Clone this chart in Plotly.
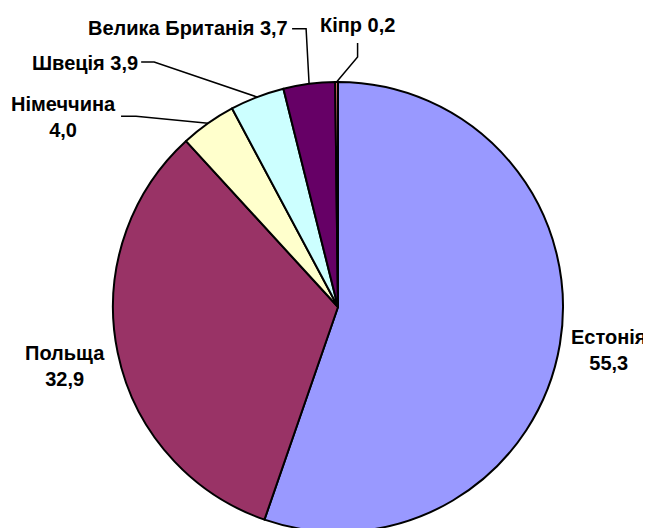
import math
import plotly.graph_objects as go

# ---- data ----
countries = ["Естонія", "Польща", "Німеччина", "Швеція", "Велика Британія", "Кіпр"]
shares = [55.3, 32.9, 4.0, 3.9, 3.7, 0.2]
label_texts = ["Естонія<br>55,3", "Польща<br>32,9", "Німеччина<br>4,0",
               "Швеція 3,9", "Велика Британія 3,7", "Кіпр 0,2"]

# ---- styles / layout ----
colors = ["#9999FF", "#993366", "#FFFFCC", "#CCFFFF", "#660066", "#FF8080"]
OFF = 8                      # page body margin of the browser
W, H = 651 - OFF, 528        # figure size (bottom overflow is clipped by the window)
CX, CY, R = 338 - OFF, 307 - OFF, 225

# label offsets (px) relative to the slice's outer-edge midpoint; leader path offsets
label_cfg = [
    dict(dx=89, dy=6, anchor="right", leader=None),
    dict(dx=-53, dy=13, anchor="center", leader=None),
    dict(dx=-145, dy=-6, anchor="center", leader=[(-72, -7), (-87, -7)]),
    dict(dx=-117, dy=-34, anchor="right", leader=[(-103, -35), (-116, -35)]),
    dict(dx=-19, dy=-56, anchor="right", leader=[(-3, -55), (-17, -55)]),
    dict(dx=21, dy=-57, anchor="center", leader=[(21, -25), (21, -39)]),
]

fig = go.Figure(go.Pie(
    labels=countries, values=shares, sort=False, direction="clockwise", rotation=0,
    marker=dict(colors=colors, line=dict(color="black", width=2)),
    textinfo="none", hoverinfo="label+value", showlegend=False,
    domain=dict(x=[(CX - R) / W, (CX + R) / W], y=[(H - CY - R) / H, (H - CY + R) / H]),
))

def px(x, y):
    return x / W, 1 - y / H

total = sum(shares)
cum = 0.0
annotations, shapes = [], []
for val, txt, cfg in zip(shares, label_texts, label_cfg):
    mid = (cum + val / 2) / total * 2 * math.pi
    cum += val
    ax = CX + R * math.sin(mid)
    ay = CY - R * math.cos(mid)
    lx, ly = px(ax + cfg["dx"], ay + cfg["dy"])
    annotations.append(dict(
        x=lx, y=ly, xref="paper", yref="paper", text="<b>" + txt + "</b>", showarrow=False,
        xanchor=cfg["anchor"], yanchor="middle", align="center",
        font=dict(family="Liberation Sans, Arial, sans-serif", size=20, color="black"),
    ))
    if cfg["leader"]:
        pts = [(ax, ay)] + [(ax + dx, ay + dy) for dx, dy in cfg["leader"]]
        path = "M " + " L ".join(f"{px(x, y)[0]:.5f},{px(x, y)[1]:.5f}" for x, y in pts)
        shapes.append(dict(type="path", xref="paper", yref="paper", path=path,
                           line=dict(color="black", width=1.5)))

fig.update_layout(
    width=W, height=H, margin=dict(l=0, r=0, t=0, b=0),
    paper_bgcolor="white", plot_bgcolor="white",
    annotations=annotations, shapes=shapes,
)
fig.write_html("out.html")
